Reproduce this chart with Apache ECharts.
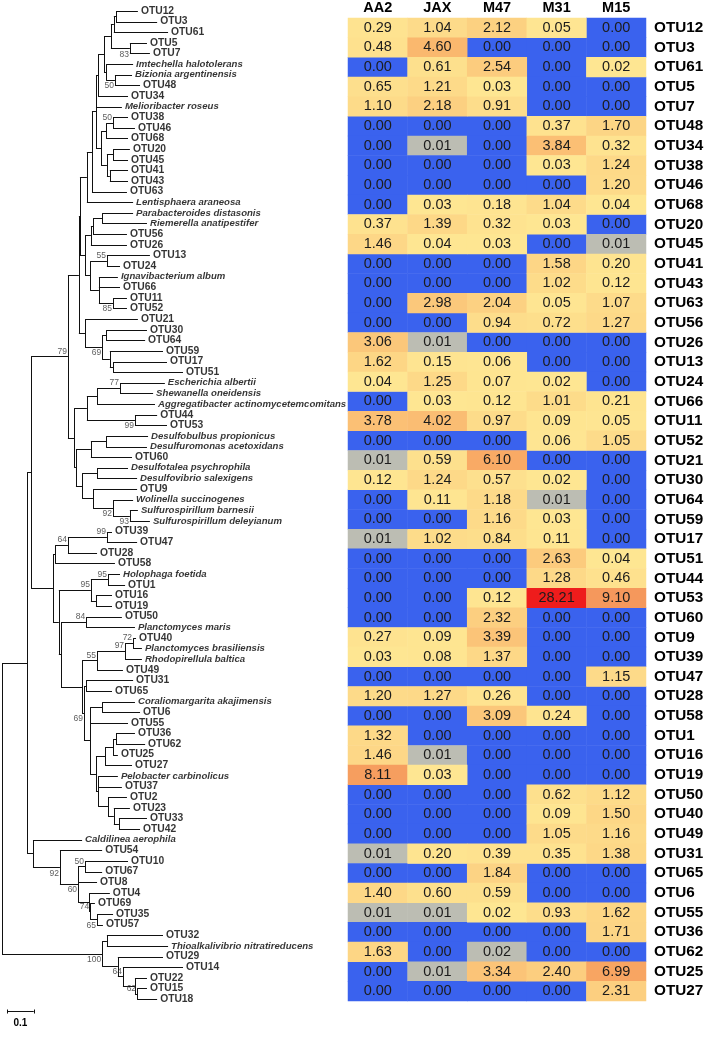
<!DOCTYPE html>
<html><head><meta charset="utf-8">
<script src="https://cdn.jsdelivr.net/npm/echarts@6/dist/echarts.min.js"></script>
<style>html,body{margin:0;padding:0;background:#fff}#chart{width:708px;height:1038px}</style>
</head><body><div id="chart"></div>
<script>
// ---------------- DATA ----------------
const columns = ['AA2', 'JAX', 'M47', 'M31', 'M15'];
const otuRows = ['OTU12','OTU3','OTU61','OTU5','OTU7','OTU48','OTU34','OTU38','OTU46','OTU68',
  'OTU20','OTU45','OTU41','OTU43','OTU63','OTU56','OTU26','OTU13','OTU24','OTU66',
  'OTU11','OTU52','OTU21','OTU30','OTU64','OTU59','OTU17','OTU51','OTU44','OTU53',
  'OTU60','OTU9','OTU39','OTU47','OTU28','OTU58','OTU1','OTU16','OTU19','OTU50',
  'OTU40','OTU49','OTU31','OTU65','OTU6','OTU55','OTU36','OTU62','OTU25','OTU27'];
const AA2 = [0.29,0.48,0.00,0.65,1.10, 0,0,0,0,0, 0.37,1.46,0,0,0, 0,3.06,1.62,0.04,0,
  3.78,0,0.01,0.12,0, 0,0.01,0,0,0, 0,0.27,0.03,0,1.20, 0,1.32,1.46,8.11,0,
  0,0,0.01,0,1.40, 0.01,0,1.63,0,0];
const JAX = [1.04,4.60,0.61,1.21,2.18, 0,0.01,0,0,0.03, 1.39,0.04,0,0,2.98, 0,0.01,0.15,1.25,0.03,
  4.02,0,0.59,1.24,0.11, 0,1.02,0,0,0, 0,0.09,0.08,0,1.27, 0,0,0.01,0.03,0,
  0,0,0.20,0,0.60, 0.01,0,0,0.01,0];
const M47 = [2.12,0,2.54,0.03,0.91, 0,0,0,0,0.18, 0.32,0.03,0,0,2.04, 0.94,0,0.06,0.07,0.12,
  0.97,0,6.10,0.57,1.18, 1.16,0.84,0,0,0.12, 2.32,3.39,1.37,0,0.26, 3.09,0,0,0,0,
  0,0,0.39,1.84,0.59, 0.02,0,0.016,3.34,0];
const M31 = [0.05,0,0,0,0, 0.37,3.84,0.03,0,1.04, 0.03,0,1.58,1.02,0.05, 0.72,0,0,0.02,1.01,
  0.09,0.06,0,0.02,0.01, 0.03,0.11,2.63,1.28,28.21, 0,0,0,0,0, 0.24,0,0,0,0.62,
  0.09,1.05,0.35,0,0, 0.93,0,0,2.40,0];
const M15 = [0,0,0.02,0,0, 1.70,0.32,1.24,1.20,0.04, 0,0.01,0.20,0.12,1.07, 1.27,0,0,0,0.21,
  0.05,1.05,0,0,0, 0,0,0.04,0.46,9.10, 0,0,0,1.15,0, 0,0,0,0,1.12,
  1.50,1.16,1.38,0,0, 1.62,1.71,0,6.99,2.31];

// Tree: Newick-like; number after ':' = node distance from root; number before ':' = bootstrap
const treeNewick = `
(
(
(
(
(
(
(
(
(
(
(
(((OTU12:0.509,OTU3:0.581):0.427,OTU61:0.622):0.419,(OTU5:0.543,OTU7:0.554)83:0.479):0.408,
(Imtechella halotolerans:0.491,(Bizionia argentinensis:0.487,OTU48:0.517)50:0.423):0.390
):0.382,
OTU34:0.472
):0.360,
Melioribacter roseus:0.449,
(((OTU38:0.472,OTU46:0.498)50:0.416,OTU68:0.472):0.390,((OTU20:0.479,OTU45:0.472):0.416,(OTU41:0.472,OTU43:0.472):0.404):0.393):0.371
):0.352,
OTU63:0.468
):0.337,
Lentisphaera araneosa:0.491
):0.318,
(
(((Parabacteroides distasonis:0.491,Riemerella anatipestifer:0.543):0.375,OTU56:0.468):0.341,OTU26:0.468):0.333,
((OTU13:0.554,OTU24:0.442)55:0.393,(Ignavibacterium album:0.434,OTU66:0.442,(OTU11:0.468,OTU52:0.468)85:0.416):0.363):0.330
):0.311
):0.292,
(OTU21:0.509,((OTU30:0.543,OTU64:0.536):0.390,(OTU59:0.603,(OTU17:0.618,OTU51:0.678):0.416):0.404)69:0.375):0.311
):0.288,
(
(((Escherichia albertii:0.610,Shewanella oneidensis:0.566)77:0.442,Aggregatibacter actinomycetemcomitans:0.573):0.356,(OTU44:0.581,OTU53:0.618)99:0.498):0.318,
(((Desulfobulbus propionicus:0.547,Desulfuromonas acetoxidans:0.543):0.390,OTU60:0.487):0.333,((Desulfotalea psychrophila:0.472,Desulfovibrio salexigens:0.506):0.356,(OTU9:0.506,(Wolinella succinogenes:0.491,(Sulfurospirillum barnesii:0.509,Sulfurospirillum deleyianum:0.554)93:0.479)92:0.416):0.341):0.300):0.277
):0.270
)79:0.247,
(
(((OTU39:0.412,OTU47:0.506)99:0.393,OTU28:0.356)64:0.247,OTU58:0.423):0.199,
(
((Holophaga foetida:0.442,OTU1:0.461)95:0.397,(OTU16:0.412,OTU19:0.412):0.352)95:0.333,
(
(OTU50:0.449,Planctomyces maris:0.498)84:0.315,
(
(((OTU40:0.502,Planctomyces brasiliensis:0.524)72:0.491,Rhodopirellula baltica:0.524)97:0.461,OTU49:0.453)55:0.356,
(
(OTU31:0.491,OTU65:0.412):0.315,
(
(Coraliomargarita akajimensis:0.498,OTU6:0.517):0.375,
OTU55:0.472,
(
(((OTU36:0.498,OTU62:0.536):0.427,OTU25:0.434):0.416,OTU27:0.487):0.386,
(Pelobacter carbinolicus:0.434,OTU37:0.449,(OTU2:0.468,(OTU23:0.479,(OTU33:0.543,OTU42:0.517):0.438):0.419):0.397):0.360
):0.352
):0.330
)69:0.307
):0.300
):0.221
):0.213
):0.191
):0.109,
(Caldilinea aerophila:0.300,(OTU54:0.375,((OTU10:0.472,OTU67:0.375)50:0.311,OTU8:0.356,(OTU4:0.404,(OTU69:0.348,(OTU35:0.416,OTU57:0.378)65:0.356)74:0.330):0.326)60:0.285)92:0.217):0.116
):0.094,
((OTU32:0.603,Thioalkalivibrio nitratireducens:0.622):0.393,(OTU29:0.603,(OTU14:0.678,(OTU22:0.543,(OTU15:0.543,OTU18:0.581)62:0.506):0.498)64:0.453):0.434)100:0.375
):0
`;
const scaleBarLength = 0.1;
const scaleBarLabel = '0.1';

// ---------------- BUILD ----------------
const FONT = "'Liberation Sans', Arial, Helvetica, sans-serif";
function parseTree(src) {
  const s = src.replace(/\s*\n\s*/g, '');
  let i = 0;
  function readNum() { const m = /^[0-9.]+/.exec(s.slice(i)); i += m[0].length; return parseFloat(m[0]); }
  function node() {
    const n = { children: [] };
    if (s[i] === '(') {
      i++;
      for (;;) { n.children.push(node()); const ch = s[i++]; if (ch === ')') break; }
      const j = s.indexOf(':', i);
      const b = s.slice(i, j).trim(); if (b) n.boot = b;
      i = j + 1;
    } else {
      const j = s.indexOf(':', i);
      n.name = s.slice(i, j).trim();
      i = j + 1;
    }
    n.depth = readNum();
    return n;
  }
  return node();
}
const root = parseTree(treeNewick);
let leafCounter = 0;
const branchData = [], leafData = [], bootData = [];
function layout(n, pd) {
  n.pd = pd;
  if (!n.children.length) {
    n.y = leafCounter++; n.y0 = n.y1 = n.y; n.first = n.last = n.name;
  } else {
    n.children.forEach(c => layout(c, n.depth));
    n.y0 = n.children[0].y; n.y1 = n.children[n.children.length - 1].y;
    n.y = (n.y0 + n.y1) / 2;
    n.first = n.children[0].first; n.last = n.children[n.children.length - 1].last;
  }
  branchData.push([n.depth, n.pd, n.y, n.y0, n.y1]);
  if (n.name) {
    const isOTU = /^OTU/.test(n.name);
    leafData.push({ name: n.name, value: [n.depth, n.y],
      label: { fontStyle: isOTU ? 'normal' : 'italic', fontSize: isOTU ? 10.3 : 9.6 } });
  }
  if (n.boot) {
    bootData.push({ name: n.boot, value: [n.depth, n.y], key: n.first + '|' + n.last });
  }
}
layout(root, 0);
const nLeaves = leafCounter;

const belowBoot = new Set(['OTU5|OTU7', 'Bizionia argentinensis|OTU48', 'OTU11|OTU52', 'OTU30|OTU51',
  'OTU44|OTU53', 'Wolinella succinogenes|Sulfurospirillum deleyianum',
  'Sulfurospirillum barnesii|Sulfurospirillum deleyianum', 'OTU31|OTU42', 'OTU54|OTU57',
  'OTU10|OTU57', 'OTU35|OTU57', 'OTU32|OTU18']);
bootData.forEach(b => { b.label = { offset: [0, belowBoot.has(b.key) ? 6 : -5] }; delete b.key; });

const valueCols = [AA2, JAX, M47, M31, M15];
const lowCells = [], posCells = [];
valueCols.forEach((col, c) => col.forEach((v, r) => {
  (v < 0.017 ? lowCells : posCells).push([c, r, v]);
}));

const crisp = v => Math.round(v) + 0.5;
const LINE = '#111';

const chart = echarts.init(document.getElementById('chart'), null, { renderer: 'canvas' });
chart.setOption({
  animation: false,
  backgroundColor: '#fff',
  textStyle: { fontFamily: FONT },
  grid: [
    { left: 2, top: 11, width: 267, height: 988 },
    { left: 348, top: 16, width: 298, height: 985 }
  ],
  xAxis: [
    { type: 'value', gridIndex: 0, min: 0, max: 1, show: false },
    { type: 'category', gridIndex: 1, data: columns, position: 'top',
      axisLine: { show: false }, axisTick: { show: false }, splitLine: { show: false },
      axisLabel: { fontWeight: 'bold', fontSize: 14.5, color: '#000', margin: 3, fontFamily: FONT } }
  ],
  yAxis: [
    { type: 'value', gridIndex: 0, min: 0, max: nLeaves - 1, inverse: true, show: false },
    { type: 'category', gridIndex: 1, data: otuRows, inverse: true, position: 'right',
      axisLine: { show: false }, axisTick: { show: false }, splitLine: { show: false },
      axisLabel: { interval: 0, fontWeight: 'bold', fontSize: 15.3, color: '#000', margin: 8, fontFamily: FONT } }
  ],
  visualMap: [
    { type: 'piecewise', show: false, seriesIndex: 4, dimension: 2,
      pieces: [{ lte: 0, color: '#3a62ee' }, { gt: 0, lt: 0.017, color: '#bcbdb3' }] },
    { type: 'continuous', show: false, seriesIndex: 5, dimension: 2, min: 0, max: 28.21,
      inRange: { color: ['#fee692', '#f9ad66', '#f38a55', '#f16a45', '#ef4430', '#ee1c1c'] } }
  ],
  series: [
    { type: 'custom', xAxisIndex: 0, yAxisIndex: 0, silent: true, clip: false,
      data: branchData, encode: { x: [0, 1], y: [2, 3, 4] },
      renderItem: (params, api) => {
        const d = api.value(0), pd = api.value(1), y = api.value(2), y0 = api.value(3), y1 = api.value(4);
        const a = api.coord([pd, y]), b = api.coord([d, y]);
        const ch = [];
        if (b[0] > a[0]) ch.push({ type: 'line', shape: { x1: a[0], y1: crisp(a[1]), x2: b[0], y2: crisp(b[1]) },
          style: { stroke: LINE, lineWidth: 1 } });
        if (y1 > y0) {
          const c = api.coord([d, y0]), e = api.coord([d, y1]);
          ch.push({ type: 'line', shape: { x1: crisp(c[0]), y1: crisp(c[1]), x2: crisp(e[0]), y2: crisp(e[1]) },
            style: { stroke: LINE, lineWidth: 1 } });
        }
        return { type: 'group', children: ch };
      } },
    { type: 'scatter', xAxisIndex: 0, yAxisIndex: 0, silent: true, symbolSize: 0, data: leafData,
      label: { show: true, position: 'right', distance: 3, formatter: p => p.name,
        fontWeight: 'bold', color: '#000', fontFamily: FONT } },
    { type: 'scatter', xAxisIndex: 0, yAxisIndex: 0, silent: true, symbolSize: 0, data: bootData,
      label: { show: true, position: 'left', distance: 1, formatter: p => p.name,
        fontSize: 8.5, color: '#333', fontFamily: FONT } },
    { type: 'custom', xAxisIndex: 0, yAxisIndex: 0, silent: true, clip: false,
      data: [[0.019, 94.1]], encode: { x: 0, y: 1 },
      renderItem: (params, api) => {
        const x0 = api.value(0), yv = api.value(1);
        const a = api.coord([x0, yv]), b = api.coord([x0 + scaleBarLength, yv]);
        const yy = crisp(a[1]);
        return { type: 'group', children: [
          { type: 'line', shape: { x1: a[0], y1: yy, x2: b[0], y2: yy }, style: { stroke: LINE, lineWidth: 1 } },
          { type: 'line', shape: { x1: crisp(a[0]), y1: yy - 2, x2: crisp(a[0]), y2: yy + 2 }, style: { stroke: LINE, lineWidth: 1 } },
          { type: 'line', shape: { x1: crisp(b[0]), y1: yy - 2, x2: crisp(b[0]), y2: yy + 2 }, style: { stroke: LINE, lineWidth: 1 } },
          { type: 'text', style: { text: scaleBarLabel, x: (a[0] + b[0]) / 2, y: yy + 12,
              align: 'center', verticalAlign: 'middle', textAlign: 'center', textVerticalAlign: 'middle',
              fontSize: 10, fontWeight: 'bold', fontFamily: FONT, fill: '#000' } }
        ] };
      } },
    { type: 'heatmap', xAxisIndex: 1, yAxisIndex: 1, data: lowCells, silent: true,
      emphasis: { disabled: true },
      label: { show: true, formatter: p => p.value[2].toFixed(2), fontSize: 14.5, color: '#1c1c1c', fontFamily: FONT } },
    { type: 'heatmap', xAxisIndex: 1, yAxisIndex: 1, data: posCells, silent: true,
      emphasis: { disabled: true },
      label: { show: true, formatter: p => p.value[2].toFixed(2), fontSize: 14.5, color: '#1c1c1c', fontFamily: FONT } }
  ]
});
</script></body></html>
